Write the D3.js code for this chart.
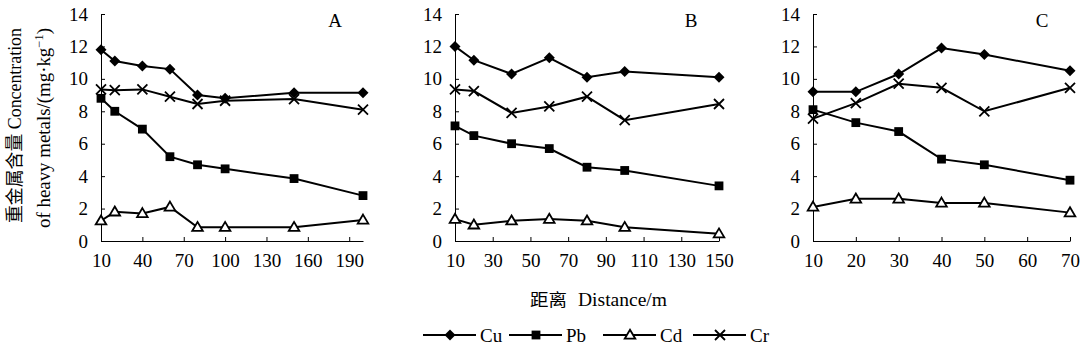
<!DOCTYPE html>
<html><head><meta charset="utf-8">
<script src="https://cdn.jsdelivr.net/npm/d3@7"></script>
<style>
html,body{margin:0;padding:0;background:#fff;}
svg{display:block;font-family:"Liberation Serif","Noto Sans CJK SC",serif;}
</style></head><body>
<svg id="chart" width="1086" height="352"></svg>
<script>
// ---- data ----
const seriesNames = ["Cu", "Pb", "Cd", "Cr"];
const yTicks = [0, 2, 4, 6, 8, 10, 12, 14];

const distA = [10, 20, 40, 60, 80, 100, 150, 200];
const cuA = [11.8, 11.1, 10.8, 10.6, 9.0, 8.8, 9.15, 9.15];
const pbA = [8.8, 8.0, 6.9, 5.2, 4.7, 4.45, 3.85, 2.8];
const cdA = [1.25, 1.8, 1.7, 2.1, 0.85, 0.85, 0.85, 1.3];
const crA = [9.35, 9.3, 9.35, 8.9, 8.45, 8.65, 8.75, 8.1];
const xTicksA = [10, 40, 70, 100, 130, 160, 190];

const distB = [10, 20, 40, 60, 80, 100, 150];
const cuB = [12.0, 11.15, 10.3, 11.3, 10.1, 10.45, 10.1];
const pbB = [7.1, 6.5, 6.0, 5.7, 4.55, 4.35, 3.4];
const cdB = [1.35, 1.0, 1.25, 1.35, 1.25, 0.85, 0.45];
const crB = [9.35, 9.25, 7.9, 8.3, 8.9, 7.45, 8.45];
const xTicksB = [10, 30, 50, 70, 90, 110, 130, 150];

const distC = [10, 20, 30, 40, 50, 70];
const cuC = [9.2, 9.2, 10.3, 11.9, 11.5, 10.5];
const pbC = [8.1, 7.3, 6.75, 5.05, 4.7, 3.75];
const cdC = [2.1, 2.6, 2.6, 2.35, 2.35, 1.75];
const crC = [7.55, 8.5, 9.7, 9.45, 8.0, 9.45];
const xTicksC = [10, 20, 30, 40, 50, 60, 70];

const panels = [
  {label: "A", dist: distA, vals: [cuA, pbA, cdA, crA], ticks: xTicksA, domain: [10, 200], x0: 101, x1: 363},
  {label: "B", dist: distB, vals: [cuB, pbB, cdB, crB], ticks: xTicksB, domain: [10, 150], x0: 455, x1: 719},
  {label: "C", dist: distC, vals: [cuC, pbC, cdC, crC], ticks: xTicksC, domain: [10, 70], x0: 813, x1: 1070}
];

const svg = d3.select("#chart");
const yTop = 14, yBot = 241;
const y = d3.scaleLinear().domain([0, 14]).range([yBot, yTop]);
const FS = 19;

function drawMarker(g, type, cx, cy) {
  if (type === "Cu") {
    const s = 5.5;
    g.append("path").attr("d", `M${cx},${cy-s}L${cx+s},${cy}L${cx},${cy+s}L${cx-s},${cy}Z`).attr("fill", "#000");
  } else if (type === "Pb") {
    const s = 4.4;
    g.append("rect").attr("x", cx-s).attr("y", cy-s).attr("width", 2*s).attr("height", 2*s).attr("fill", "#000");
  } else if (type === "Cd") {
    const s = 5.3;
    g.append("path").attr("d", `M${cx},${cy-s}L${cx+s},${cy+s*0.7}L${cx-s},${cy+s*0.7}Z`)
      .attr("fill", "#fff").attr("stroke", "#000").attr("stroke-width", 1.8);
  } else {
    const s = 5;
    g.append("path").attr("d", `M${cx-s},${cy-s}L${cx+s},${cy+s}M${cx-s},${cy+s}L${cx+s},${cy-s}`)
      .attr("stroke", "#000").attr("stroke-width", 1.8);
  }
}

panels.forEach(p => {
  const x = d3.scaleLinear().domain(p.domain).range([p.x0, p.x1]);
  const g = svg.append("g");

  const ya = g.append("g").attr("transform", `translate(${p.x0},0)`)
    .call(d3.axisLeft(y).tickValues(yTicks).tickSize(-4).tickPadding(13).tickSizeOuter(0));
  const xa = g.append("g").attr("transform", `translate(0,${yBot})`)
    .call(d3.axisBottom(x).tickValues(p.ticks).tickSize(-4).tickPadding(13).tickSizeOuter(0));
  [ya, xa].forEach(a => {
    a.attr("font-family", null).attr("font-size", null);
    a.selectAll("path,line").attr("stroke", "#000").attr("stroke-width", 1);
    a.selectAll("text").attr("font-size", FS).attr("fill", "#000");
  });

  seriesNames.forEach((name, si) => {
    const vals = p.vals[si];
    const pts = p.dist.map((d, i) => [x(d), y(vals[i])]);
    g.append("path").attr("d", d3.line()(pts)).attr("fill", "none")
      .attr("stroke", "#000").attr("stroke-width", 2);
    const mg = g.append("g");
    pts.forEach(pt => drawMarker(mg, name, pt[0], pt[1]));
  });

  g.append("text").attr("x", p.x1 - 28).attr("y", 27).attr("text-anchor", "middle")
    .attr("font-size", 19).text(p.label);
});

// y-axis title (rotated)
svg.append("text").attr("transform", "translate(21,223) rotate(-90)")
  .attr("font-size", 18).attr("textLength", 195).attr("lengthAdjust", "spacingAndGlyphs")
  .text("重金属含量 Concentration");
const yt2 = svg.append("text").attr("transform", "translate(50,228) rotate(-90)")
  .attr("font-size", 18).attr("textLength", 200).attr("lengthAdjust", "spacingAndGlyphs");
yt2.append("tspan").text("of heavy metals/(mg·kg");
yt2.append("tspan").attr("font-size", 12).attr("dy", -7).text("−1");
yt2.append("tspan").attr("dy", 7).text(")");

// x-axis title
svg.append("text").attr("x", 530).attr("y", 306)
  .attr("font-size", 17).attr("textLength", 37).attr("lengthAdjust", "spacingAndGlyphs").text("距离");
svg.append("text").attr("x", 578).attr("y", 306)
  .attr("font-size", 19).attr("textLength", 89).attr("lengthAdjust", "spacingAndGlyphs").text("Distance/m");

// legend
const legX = [423, 509, 603, 693];
seriesNames.forEach((name, i) => {
  const lg = svg.append("g");
  const x0 = legX[i], cy = 335;
  lg.append("line").attr("x1", x0).attr("x2", x0 + 53).attr("y1", cy).attr("y2", cy)
    .attr("stroke", "#000").attr("stroke-width", 2);
  drawMarker(lg, name, x0 + 27, cy);
  lg.append("text").attr("x", x0 + 57).attr("y", cy).attr("dy", "0.35em")
    .attr("font-size", FS).text(name);
});
</script>
</body></html>
